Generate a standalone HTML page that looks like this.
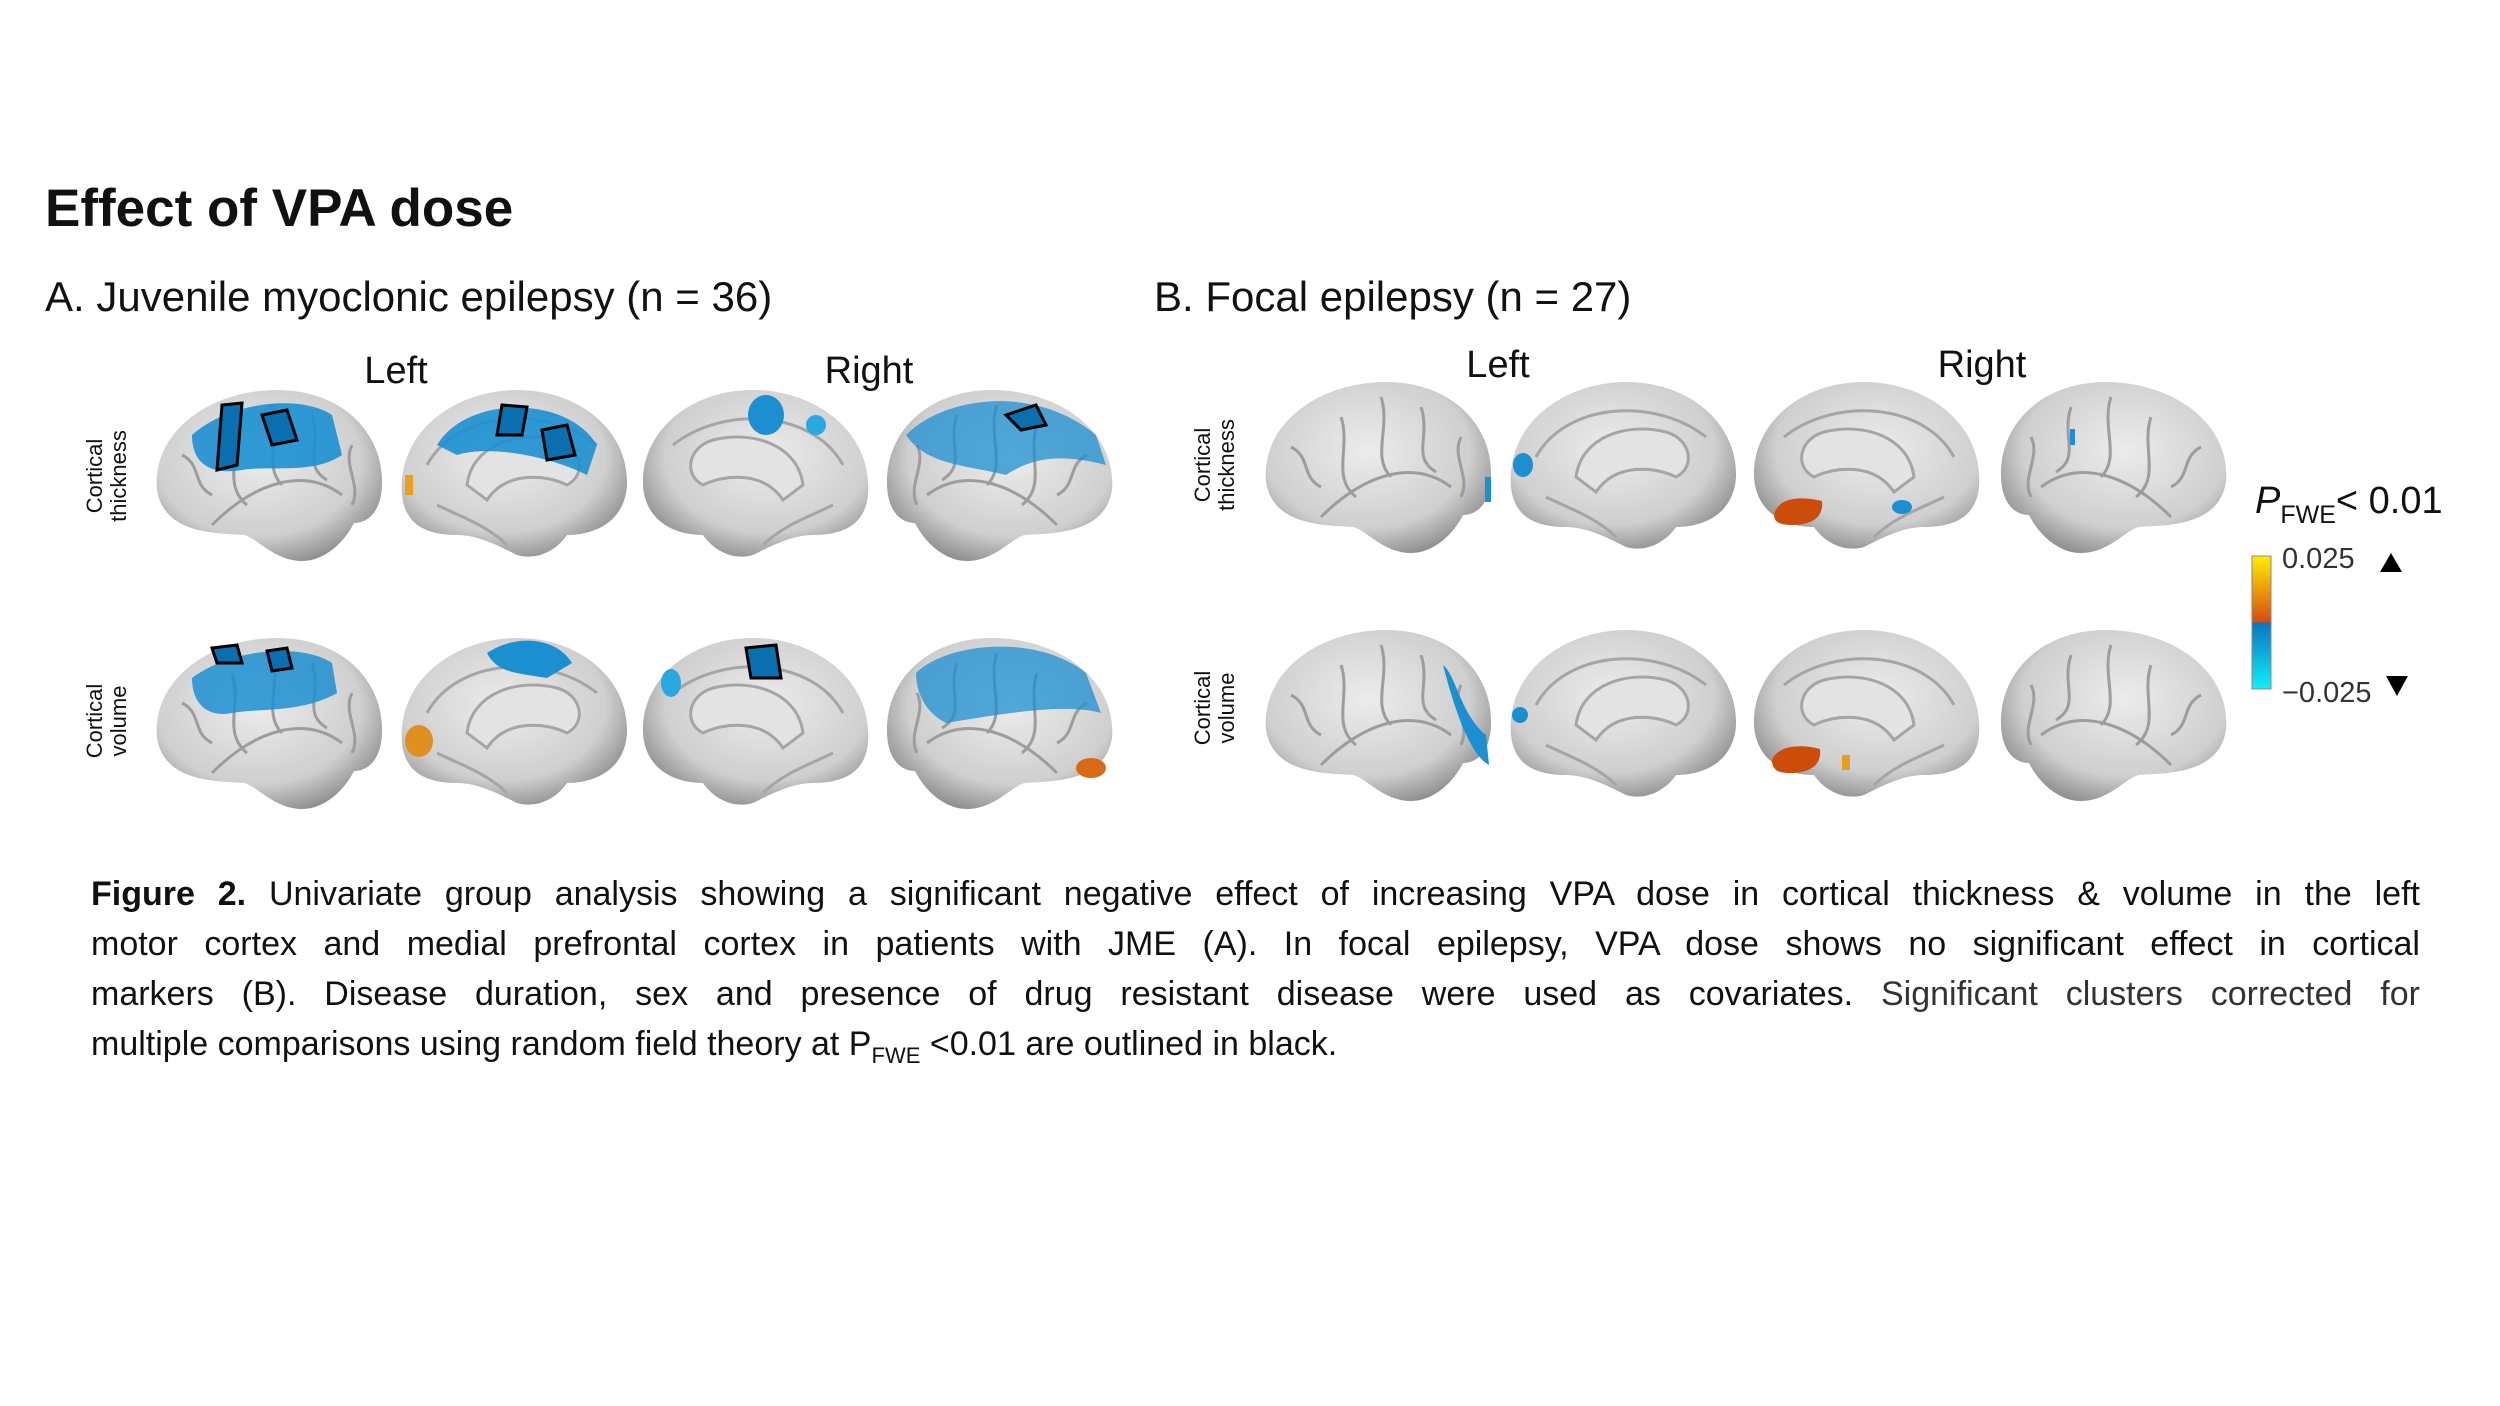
<!DOCTYPE html>
<html><head><meta charset="utf-8"><style>
body{margin:0;background:#fff;}
#p{position:relative;width:2500px;height:1406px;overflow:hidden;font-family:"Liberation Sans",sans-serif;color:#111;}
.t{position:absolute;white-space:nowrap;}
.rot{position:absolute;transform:translate(-50%,-50%) rotate(-90deg);font-size:22px;text-align:center;line-height:24px;}
.cap{position:absolute;left:91px;width:2329px;font-size:34px;line-height:50px;}
.cap div{text-align:justify;text-align-last:justify;white-space:nowrap;}
.cap div.l{text-align-last:left;}
svg{position:absolute;left:0;top:0;}
</style></head><body><div id="p">
<svg width="2500" height="1406">
<defs>
<radialGradient id="g" cx="45%" cy="40%" r="65%"><stop offset="0" stop-color="#ececec"/><stop offset="0.7" stop-color="#cfcfcf"/><stop offset="1" stop-color="#8a8a8a"/></radialGradient>
<g id="lat"><path d="M5,105 C0,45 60,5 125,5 C190,5 232,48 230,100 C229,128 215,138 202,138 C192,158 172,176 150,176 C122,176 104,152 92,150 C60,148 12,148 5,105Z" fill="url(#g)"/>
<g fill="none" stroke="#9d9d9d" stroke-width="3"><path d="M60,140 C100,100 150,80 190,110"/><path d="M80,40 C90,70 70,100 95,120"/><path d="M120,20 C130,50 110,80 130,100"/><path d="M160,30 C170,60 150,80 175,95"/><path d="M30,70 C50,80 40,100 60,110"/><path d="M200,60 C190,80 210,100 200,120"/></g></g>
<g id="med"><path d="M5,110 C0,45 60,5 120,5 C185,5 232,48 230,100 C228,135 200,150 170,150 C160,165 140,176 120,170 C100,160 80,150 60,150 C30,150 8,140 5,110Z" fill="url(#g)"/>
<path d="M70,100 C75,60 120,45 160,55 C185,62 190,90 170,100 C150,90 110,85 90,115Z" fill="#e3e3e3" stroke="#a5a5a5" stroke-width="3"/>
<g fill="none" stroke="#a5a5a5" stroke-width="3"><path d="M30,80 C60,25 150,20 200,60"/><path d="M40,120 C60,130 90,140 110,160"/></g></g>
</defs>
<g transform="translate(152,385)"><use href="#lat"/><path d="M40,50 C80,15 150,10 180,30 L190,70 C160,90 120,80 90,85 C60,90 40,80 40,50Z" fill="#1c8fd0" opacity="0.9"/><path d="M70,20 L90,18 L85,80 L65,85Z M110,30 L135,25 L145,55 L120,60Z" fill="#0a6fae" stroke="#000" stroke-width="3"/></g>
<g transform="translate(397,385)"><use href="#med"/><path d="M40,60 C70,10 170,10 200,60 L190,90 C150,70 90,60 60,70Z" fill="#1c8fd0" opacity="0.9"/><path d="M105,20 L130,22 L125,50 L100,50Z M145,45 L170,40 L178,70 L150,75Z" fill="#0a6fae" stroke="#000" stroke-width="3"/><rect x="8" y="90" width="8" height="20" fill="#e8a020"/></g>
<g transform="translate(641,385)"><use href="#med" transform="translate(232,0) scale(-1,1)"/><ellipse cx="125" cy="30" rx="18" ry="20" fill="#1c8fd0"/><ellipse cx="175" cy="40" rx="10" ry="10" fill="#2aa8e0"/></g>
<g transform="translate(886,385)"><use href="#lat" transform="translate(231,0) scale(-1,1)"/><path d="M20,50 C60,10 150,0 210,50 L220,80 C180,70 150,70 120,90 C80,80 40,80 20,50Z" fill="#1c8fd0" opacity="0.75"/><path d="M120,30 L150,20 L160,40 L135,45Z" fill="#0a6fae" stroke="#000" stroke-width="3"/></g>
<g transform="translate(152,633)"><use href="#lat"/><path d="M40,45 C80,15 150,10 180,30 L185,60 C150,80 110,75 80,80 C55,85 40,70 40,45Z" fill="#1c8fd0" opacity="0.85"/><path d="M60,15 L85,12 L90,30 L65,30Z M115,18 L135,15 L140,35 L120,38Z" fill="#0a6fae" stroke="#000" stroke-width="3"/></g>
<g transform="translate(397,633)"><use href="#med"/><path d="M90,20 C120,0 160,5 175,30 L150,45 C120,40 100,40 90,20Z" fill="#1c8fd0"/><ellipse cx="22" cy="108" rx="14" ry="16" fill="#e09020"/></g>
<g transform="translate(641,633)"><use href="#med" transform="translate(232,0) scale(-1,1)"/><path d="M105,15 L135,12 L140,45 L110,45Z" fill="#0a6fae" stroke="#000" stroke-width="3"/><ellipse cx="30" cy="50" rx="10" ry="14" fill="#2aa8e0"/></g>
<g transform="translate(886,633)"><use href="#lat" transform="translate(231,0) scale(-1,1)"/><path d="M30,40 C60,10 150,0 200,40 L215,80 C180,70 120,80 60,90 C40,80 30,60 30,40Z" fill="#1c8fd0" opacity="0.75"/><ellipse cx="205" cy="135" rx="15" ry="10" fill="#d86a15"/></g>
<g transform="translate(1261,377)"><use href="#lat"/><rect x="224" y="100" width="6" height="25" fill="#1c8fd0"/></g>
<g transform="translate(1506,377)"><use href="#med"/><ellipse cx="17" cy="88" rx="10" ry="12" fill="#1c8fd0"/></g>
<g transform="translate(1752,377)"><use href="#med" transform="translate(232,0) scale(-1,1)"/><path d="M22,138 C25,122 45,118 70,124 C72,140 60,148 40,148 C28,148 22,145 22,138Z" fill="#cc4d0a"/><ellipse cx="150" cy="130" rx="10" ry="7" fill="#1c8fd0"/></g>
<g transform="translate(2000,377)"><use href="#lat" transform="translate(231,0) scale(-1,1)"/><rect x="70" y="52" width="5" height="16" fill="#1c8fd0"/></g>
<g transform="translate(1261,625)"><use href="#lat"/><path d="M182,40 C195,50 200,90 225,110 L228,140 C210,130 195,90 182,40Z" fill="#1c8fd0"/></g>
<g transform="translate(1506,625)"><use href="#med"/><ellipse cx="14" cy="90" rx="8" ry="8" fill="#1c8fd0"/></g>
<g transform="translate(1752,625)"><use href="#med" transform="translate(232,0) scale(-1,1)"/><path d="M20,135 C25,122 45,118 68,124 C70,140 58,148 38,148 C26,148 20,145 20,135Z" fill="#cc4d0a"/><rect x="90" y="130" width="8" height="15" fill="#e8a020"/></g>
<g transform="translate(2000,625)"><use href="#lat" transform="translate(231,0) scale(-1,1)"/></g>
<defs><linearGradient id="cb" x1="0" y1="0" x2="0" y2="1"><stop offset="0" stop-color="#ffee00"/><stop offset="0.5" stop-color="#d84a10"/><stop offset="0.5" stop-color="#0a74c0"/><stop offset="1" stop-color="#10f0f8"/></linearGradient></defs>
<rect x="2252" y="556" width="19" height="133" fill="url(#cb)" stroke="#888" stroke-width="1"/>
<polygon points="2380,572 2402,572 2391,553" fill="#000"/>
<polygon points="2386,676 2408,676 2397,696" fill="#000"/>
</svg>
<div class="t" style="left:45px;top:178px;font-size:53px;font-weight:bold;">Effect of VPA dose</div>
<div class="t" style="left:45px;top:273px;font-size:42px;">A. Juvenile myoclonic epilepsy (n = 36)</div>
<div class="t" style="left:1154px;top:273px;font-size:42px;">B. Focal epilepsy (n = 27)</div>
<div class="t" style="left:396px;top:350px;font-size:38px;transform:translateX(-50%);">Left</div>
<div class="t" style="left:869px;top:350px;font-size:38px;transform:translateX(-50%);">Right</div>
<div class="t" style="left:1498px;top:344px;font-size:38px;transform:translateX(-50%);">Left</div>
<div class="t" style="left:1982px;top:344px;font-size:38px;transform:translateX(-50%);">Right</div>
<div class="rot" style="left:107px;top:476px;">Cortical<br>thickness</div>
<div class="rot" style="left:107px;top:721px;">Cortical<br>volume</div>
<div class="rot" style="left:1215px;top:465px;">Cortical<br>thickness</div>
<div class="rot" style="left:1215px;top:708px;">Cortical<br>volume</div>
<div class="t" style="left:2255px;top:480px;font-size:38px;"><i>P</i><span style="font-size:25px;position:relative;top:10px;">FWE</span>&lt; 0.01</div>
<div class="t" style="left:2282px;top:543px;font-size:29px;color:#333;">0.025</div>
<div class="t" style="left:2282px;top:677px;font-size:29px;color:#333;">−0.025</div>
<div class="cap" style="top:869px;">
<div><b>Figure 2.</b> Univariate group analysis showing a significant negative effect of increasing VPA dose in cortical thickness &amp; volume in the left</div>
<div>motor cortex and medial prefrontal cortex in patients with JME (A). In focal epilepsy, VPA dose shows no significant effect in cortical</div>
<div>markers (B). Disease duration, sex and presence of drug resistant disease were used as covariates. <span style="color:#333">Significant clusters corrected for</span></div>
<div class="l">multiple comparisons using random field theory at P<sub style="font-size:22px;">FWE</sub> &lt;0.01 are outlined in black.</div>
</div>
</div></body></html>
